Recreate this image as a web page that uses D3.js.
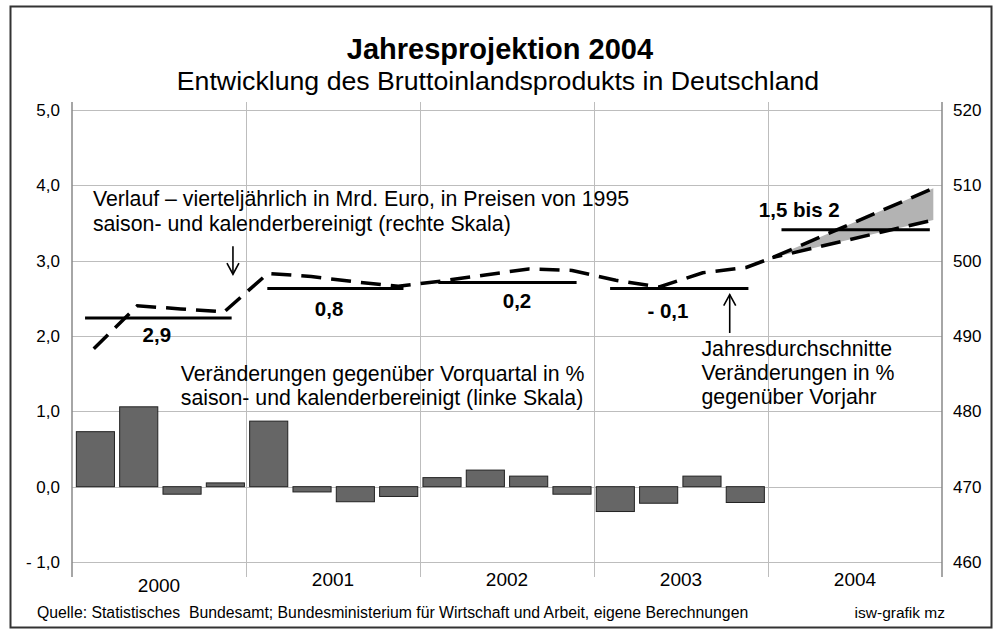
<!DOCTYPE html>
<html><head><meta charset="utf-8">
<script src="https://cdn.jsdelivr.net/npm/d3@7"></script>
<style>
body{margin:0;background:#fff}
svg{display:block}
text{font-family:"Liberation Sans",Arial,sans-serif;fill:#000}
</style>
</head><body>
<svg id="chart" width="999" height="630"></svg>
<script>
// ---------------- data ----------------
const years = ["2000", "2001", "2002", "2003", "2004"];
// quarterly change vs previous quarter in % (left scale)
const quarterChange = [0.73, 1.06, -0.10, 0.05, 0.87, -0.07, -0.20, -0.13, 0.12, 0.22, 0.14, -0.10, -0.33, -0.22, 0.14, -0.21];
// quarterly GDP level in bn Euro (right scale)
const gdpLevel = [488.3, 494.0, 493.6, 493.2, 498.3, 497.9, 497.2, 496.6, 497.3, 498.1, 498.9, 498.7, 497.4, 496.5, 498.4, 499.1];
// 2004 projection corridor (quarter position, level)
const projQuarter = [16.1, 19.8];
const projUpper = [500.4, 509.6];
const projLower = [500.4, 505.4];
// annual average level (right scale) and annual growth labels
const annualLevel = [492.4, 496.3, 497.1, 496.3, 504.1];
const annualLabel = ["2,9", "0,8", "0,2", "- 0,1", "1,5 bis 2"];
const leftTicks = [-1, 0, 1, 2, 3, 4, 5];
const rightTicks = [460, 470, 480, 490, 500, 510, 520];

const title = "Jahresprojektion 2004";
const subtitle = "Entwicklung des Bruttoinlandsprodukts in Deutschland";
const noteLine = ["Verlauf \u2013 vierteljährlich in Mrd. Euro, in Preisen von 1995", "saison- und kalenderbereinigt (rechte Skala)"];
const noteBars = ["Veränderungen gegenüber Vorquartal in %", "saison- und kalenderbereinigt (linke Skala)"];
const noteAnnual = ["Jahresdurchschnitte", "Veränderungen in %", "gegenüber Vorjahr"];
const source = "Quelle: Statistisches  Bundesamt; Bundesministerium für Wirtschaft und Arbeit, eigene Berechnungen";
const credit = "isw-grafik mz";

// ---------------- layout ----------------
const plot = {left: 72, right: 942, top: 102, bottom: 577};
const svg = d3.select("#chart");

const xq = d3.scaleLinear().domain([0, 20]).range([plot.left, plot.right]);
const xb = d3.scaleBand().domain(d3.range(20)).range([plot.left, plot.right]).paddingInner(0.12).paddingOuter(0.1);
const yL = d3.scaleLinear().domain([-1, 5]).range([562, 110]);
const yR = d3.scaleLinear().domain([460, 520]).range([562, 110]);

const fmtL = d => (d < 0 ? "- " + d3.format(".1f")(-d) : d3.format(".1f")(d)).replace(".", ",");

// frame
svg.append("rect").attr("x", 10.5).attr("y", 6.5).attr("width", 981).attr("height", 621)
  .attr("fill", "none").attr("stroke", "#333").attr("stroke-width", 2);

// titles
svg.append("text").attr("x", 500).attr("y", 59).attr("text-anchor", "middle")
  .style("font-size", "29px").style("font-weight", "bold").text(title);
svg.append("text").attr("x", 498).attr("y", 90).attr("text-anchor", "middle")
  .style("font-size", "26.7px").text(subtitle);

// grid
const grid = svg.append("g").attr("stroke", "#bdbdbd").attr("stroke-width", 1);
grid.selectAll("line.h").data(leftTicks).join("line")
  .attr("x1", plot.left).attr("x2", plot.right)
  .attr("y1", d => Math.round(yL(d)) + 0.5).attr("y2", d => Math.round(yL(d)) + 0.5);
grid.selectAll("line.v").data([4, 8, 12, 16]).join("line")
  .attr("x1", d => Math.round(xq(d)) + 0.5).attr("x2", d => Math.round(xq(d)) + 0.5)
  .attr("y1", plot.top).attr("y2", plot.bottom);

// axes
const axL = svg.append("g").attr("transform", `translate(${plot.left},0)`)
  .call(d3.axisLeft(yL).tickValues(leftTicks).tickFormat(fmtL).tickSize(0).tickPadding(12));
const axR = svg.append("g").attr("transform", `translate(${plot.right},0)`)
  .call(d3.axisRight(yR).tickValues(rightTicks).tickFormat(d3.format("d")).tickSize(0).tickPadding(11));
[axL, axR].forEach(a => {
  a.select(".domain").remove();
  a.selectAll("text").style("font-size", "17px").style("font-family", "'Liberation Sans',Arial,sans-serif").attr("fill", "#000");
});
svg.append("g").attr("stroke", "#888").attr("stroke-width", 1.5)
  .selectAll("line").data([plot.left, plot.right]).join("line")
  .attr("x1", d => d).attr("x2", d => d).attr("y1", plot.top).attr("y2", plot.bottom);

// year labels
svg.append("g").selectAll("text").data(years).join("text")
  .attr("x", (d, i) => xq(i * 4 + 2)).attr("y", (d, i) => i === 0 ? 592 : 586)
  .attr("text-anchor", "middle").style("font-size", "19px").text(d => d);

// bars
svg.append("g").selectAll("rect").data(quarterChange).join("rect")
  .attr("x", (d, i) => xb(i)).attr("width", xb.bandwidth())
  .attr("y", d => yL(Math.max(0, d))).attr("height", d => Math.abs(yL(d) - yL(0)))
  .attr("fill", "#666").attr("stroke", "#222").attr("stroke-width", 1);

// projection corridor fill
const proj = projQuarter.map((q, i) => ({q, up: projUpper[i], lo: projLower[i]}));
svg.append("path").datum(proj)
  .attr("d", d3.area().x(d => xq(d.q)).y0(d => yR(d.lo)).y1(d => yR(d.up)))
  .attr("fill", "#b3b3b3");

// annual average lines
const avgSpan = [[0.3, 3.67], [0.49, 3.62], [0.42, 3.6], [0.37, 3.55], [0.31, 3.72]];
svg.append("g").selectAll("line").data(annualLevel).join("line")
  .attr("x1", (d, i) => xq(i * 4 + avgSpan[i][0])).attr("x2", (d, i) => xq(i * 4 + avgSpan[i][1]))
  .attr("y1", d => yR(d)).attr("y2", d => yR(d))
  .attr("stroke", "#000").attr("stroke-width", 3);

// annual labels
const labelPos = [{dq: 1.95, dy: 24}, {dq: 1.91, dy: 27}, {dq: 2.23, dy: 25}, {dq: 1.7, dy: 29}, {dq: 0.72, dy: -13}];
svg.append("g").selectAll("text").data(annualLabel).join("text")
  .attr("x", (d, i) => xq(i * 4 + labelPos[i].dq)).attr("y", (d, i) => yR(annualLevel[i]) + labelPos[i].dy)
  .attr("text-anchor", "middle").style("font-size", "20.5px").style("font-weight", "bold").text(d => d);

// GDP level dashed line
const linePts = gdpLevel.map((v, i) => ({q: i + 0.5, v})).concat(proj.map(d => ({q: d.q, v: d.up})));
const lineGen = d3.line().x(d => xq(d.q)).y(d => yR(d.v));
svg.append("path").datum(linePts).attr("d", lineGen)
  .attr("fill", "none").attr("stroke", "#000").attr("stroke-width", 3.5)
  .attr("stroke-dasharray", "20,10");
svg.append("path").datum(proj.map(d => ({q: d.q, v: d.lo}))).attr("d", lineGen)
  .attr("fill", "none").attr("stroke", "#000").attr("stroke-width", 3.5)
  .attr("stroke-dasharray", "20,10").attr("stroke-dashoffset", 10);

// annotations
function block(lines, x, y0, step) {
  svg.append("g").selectAll("text").data(lines).join("text")
    .attr("x", x).attr("y", (d, i) => y0 + i * step).style("font-size", "21.3px").text(d => d);
}
block(noteLine, xq(0.48), yR(507.2), 25);
block(noteBars, xq(2.5), yL(1.4), 24);
block(noteAnnual, xq(14.47), yL(1.73), 24);

// arrows
function arrow(x, yFrom, yTo) {
  const dir = yTo > yFrom ? 1 : -1;
  const g = svg.append("g").attr("stroke", "#000").attr("stroke-width", 1.6).attr("fill", "none");
  g.append("line").attr("x1", x).attr("x2", x).attr("y1", yFrom).attr("y2", yTo);
  g.append("path").attr("d", `M${x - 6},${yTo - dir * 11}L${x},${yTo}L${x + 6},${yTo - dir * 11}`);
}
arrow(xq(3.7), yR(501.9), yR(498.2));
arrow(xq(15.12), yR(490.4), yR(495.5));

// footer
svg.append("text").attr("x", 37).attr("y", 618).style("font-size", "15.8px").style("white-space", "pre")
  .attr("xml:space", "preserve").text(source);
svg.append("text").attr("x", 945).attr("y", 618).attr("text-anchor", "end").style("font-size", "15.5px").text(credit);
</script>
</body></html>
